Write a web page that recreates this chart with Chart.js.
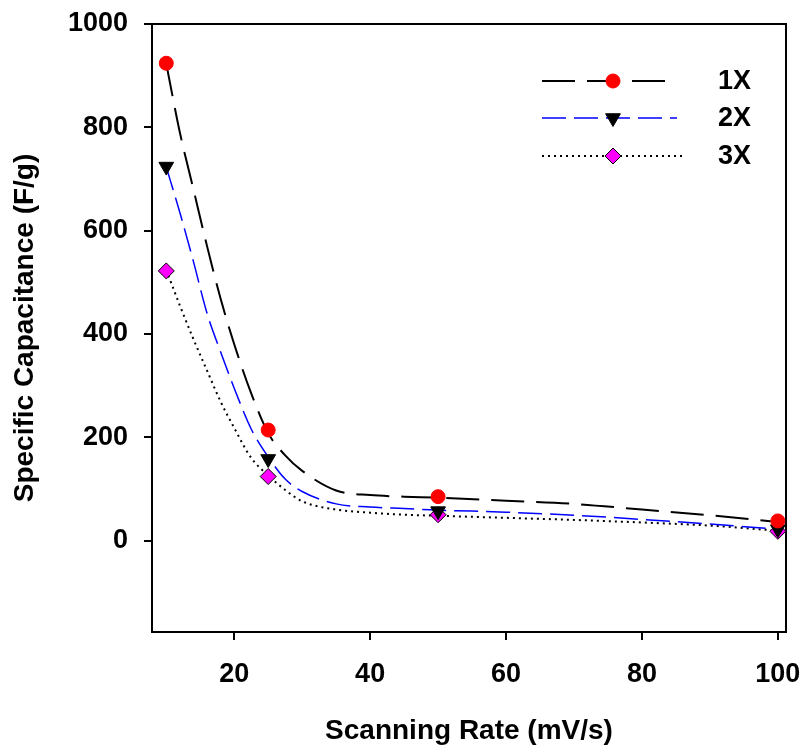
<!DOCTYPE html>
<html><head><meta charset="utf-8">
<script src="https://cdn.jsdelivr.net/npm/chart.js@4/dist/chart.umd.min.js"></script>
<style>html,body{margin:0;padding:0;background:#fff}</style>
</head><body>
<canvas id="c" width="805" height="749" style="width:805px;height:749px;display:block"></canvas>
<script>
// measured data points
const scanRates = [10, 25, 50, 100];
const cap1X = [924, 214, 85, 38];
const cap2X = [724, 158, 57, 22];
const cap3X = [522, 124, 50, 18];
// fitted curves
const fitRates = [10, 12, 14, 16, 18, 20, 22.5, 25, 27.5, 30, 35, 40, 45, 50, 60, 70, 80, 90, 100];
const fit1X = [923, 790, 680, 570, 468, 380, 285, 208, 165, 135, 97, 88, 85, 83, 77, 71, 60, 49, 36];
const fit2X = [723, 635, 540, 440, 365, 295, 216, 162, 119, 95, 71, 65, 62, 59, 55, 49, 41, 32, 22];
const fit3X = [524, 455, 390, 329, 269, 218, 160, 126, 98, 76, 60, 54, 50, 48, 44, 40, 35, 29, 19];
const seriesLabels = ['1X', '2X', '3X'];
const xTickValues = [20, 40, 60, 80, 100];
const yTickValues = [0, 200, 400, 600, 800, 1000];
const xTitle = 'Scanning Rate (mV/s)';
const yTitle = 'Specific Capacitance (F/g)';

const FONT = '"Liberation Sans", Arial, sans-serif';
const pts = (xs, ys) => xs.map((x, i) => ({x: x, y: ys[i]}));

const lineStyles = [
  {color: '#000000', dash: [33, 12], width: 2},
  {color: '#0000ff', dash: [24, 8], width: 1.5},
  {color: '#000000', dash: [2, 4], width: 2}
];
const markerStyles = [
  {pointStyle: 'circle', radius: 7, rotation: 0, fill: '#ff0000', border: '#ff0000', bw: 1},
  {pointStyle: 'triangle', radius: 8.5, rotation: 180, fill: '#000000', border: '#000000', bw: 1},
  {pointStyle: 'rectRot', radius: 8, rotation: 0, fill: '#ff00ff', border: '#000000', bw: 1}
];
const pointSets = [cap1X, cap2X, cap3X];
const fitSets = [fit1X, fit2X, fit3X];

const datasets = [];
pointSets.forEach((vals, i) => {
  const m = markerStyles[i];
  datasets.push({
    label: seriesLabels[i], data: pts(scanRates, vals), showLine: false, order: 0,
    pointStyle: m.pointStyle, pointRadius: m.radius, pointRotation: m.rotation,
    pointBackgroundColor: m.fill, pointBorderColor: m.border, pointBorderWidth: m.bw,
    backgroundColor: m.fill, borderColor: m.border
  });
});
fitSets.forEach((vals, i) => {
  const l = lineStyles[i];
  datasets.push({
    label: seriesLabels[i] + ' fit', data: pts(fitRates, vals), showLine: true, order: 1,
    pointRadius: 0, borderColor: l.color, borderWidth: l.width, borderDash: l.dash,
    cubicInterpolationMode: 'monotone', fill: false
  });
});

const framePlugin = {
  id: 'frame',
  beforeDatasetsDraw(chart) {
    const {ctx, chartArea: a} = chart;
    ctx.save();
    ctx.strokeStyle = '#000'; ctx.lineWidth = 2;
    ctx.beginPath();
    ctx.moveTo(a.left, a.top); ctx.lineTo(a.right, a.top); ctx.lineTo(a.right, a.bottom);
    ctx.stroke();
    ctx.restore();
  }
};

const legendPlugin = {
  id: 'customLegend',
  afterDatasetsDraw(chart) {
    const ctx = chart.ctx;
    const rows = [
      {y: 81, x2: 672}, {y: 118, x2: 677}, {y: 156, x2: 683}
    ];
    rows.forEach((r, i) => {
      const l = lineStyles[i], m = markerStyles[i];
      ctx.save();
      ctx.strokeStyle = l.color; ctx.lineWidth = l.width; ctx.setLineDash(l.dash);
      ctx.beginPath(); ctx.moveTo(542, r.y); ctx.lineTo(r.x2, r.y); ctx.stroke();
      ctx.setLineDash([]);
      ctx.fillStyle = m.fill; ctx.strokeStyle = m.border; ctx.lineWidth = m.bw;
      Chart.helpers.drawPoint(ctx, {pointStyle: m.pointStyle, radius: m.radius, rotation: m.rotation, borderWidth: m.bw}, 613, r.y);
      ctx.fillStyle = '#000'; ctx.font = 'bold 27px ' + FONT;
      ctx.textAlign = 'left'; ctx.textBaseline = 'middle';
      ctx.fillText(seriesLabels[i], 718, r.y + 1);
      ctx.restore();
    });
  }
};

new Chart(document.getElementById('c'), {
  type: 'scatter',
  data: {datasets},
  options: {
    responsive: false, animation: false, devicePixelRatio: 1,
    layout: {padding: {top: 24, right: 19, left: 0, bottom: 0}},
    plugins: {legend: {display: false}, tooltip: {enabled: false}},
    scales: {
      x: {
        type: 'linear', min: 7.9, max: 101.2,
        afterFit: s => { s.height = 117; s.paddingLeft = 0; s.paddingRight = 0; },
        afterBuildTicks: s => { s.ticks = xTickValues.map(v => ({value: v})); },
        grid: {drawOnChartArea: false, drawTicks: true, tickLength: 8, color: '#000', lineWidth: 2},
        border: {display: true, color: '#000', width: 2},
        ticks: {color: '#000', padding: 18, maxRotation: 0, font: {family: FONT, size: 27, weight: 'bold'}, callback: v => String(v)},
        title: {display: true, text: xTitle, color: '#000', font: {family: FONT, size: 28, weight: 'bold'}, padding: {top: 0, bottom: 1}}
      },
      y: {
        type: 'linear', min: -177, max: 1000,
        afterFit: s => { s.width = 152; s.paddingTop = 0; s.paddingBottom = 0; },
        afterBuildTicks: s => { s.ticks = yTickValues.map(v => ({value: v})); },
        grid: {drawOnChartArea: false, drawTicks: true, tickLength: 8, color: '#000', lineWidth: 2},
        border: {display: true, color: '#000', width: 2},
        ticks: {color: '#000', padding: 16, font: {family: FONT, size: 27, weight: 'bold'}, callback: v => String(v)},
        title: {display: true, text: yTitle, color: '#000', font: {family: FONT, size: 28, weight: 'bold'}, padding: {top: 8, bottom: 0}}
      }
    }
  },
  plugins: [framePlugin, legendPlugin]
});
</script>
</body></html>
